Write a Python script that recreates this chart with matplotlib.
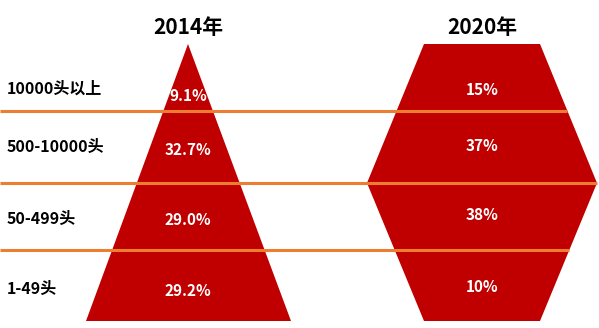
import matplotlib
matplotlib.use("Agg")
import matplotlib.pyplot as plt
from matplotlib.patches import Polygon

plt.rcParams['font.family'] = ['Noto Sans CJK SC', 'DejaVu Sans']

# data
categories = ["10000头以上", "500-10000头", "50-499头", "1-49头"]
years = ["2014年", "2020年"]
share_2014 = ["9.1%", "32.7%", "29.0%", "29.2%"]
share_2020 = ["15%", "37%", "38%", "10%"]

# layout (pixel units, y down)
W, H = 599, 328
top, bottom = 44, 321
band_edges = [111, 183, 250]
cx = [188, 482]
label_y = [89, 147, 219, 289]
pct_y_2014 = [96, 150, 220, 291]
pct_y_2020 = [90, 146, 215, 287]
red = "#C00000"
orange = "#ED7D31"

fig = plt.figure(figsize=(W / 100, H / 100), dpi=100)
ax = fig.add_axes([0, 0, 1, 1])
ax.set_xlim(0, W)
ax.set_ylim(H, 0)
ax.axis("off")

# 2014 pyramid
tri = Polygon([(cx[0], top), (cx[0] + 103, bottom), (cx[0] - 102, bottom)],
              closed=True, color=red, lw=0)
ax.add_patch(tri)

# 2020 hexagon
hw_top, hw_mid = 58, 115
hexa = Polygon([(cx[1] - hw_top, top), (cx[1] + hw_top, top),
                (cx[1] + hw_mid, band_edges[1]), (cx[1] + hw_top, bottom),
                (cx[1] - hw_top, bottom), (cx[1] - hw_mid, band_edges[1])],
               closed=True, color=red, lw=0)
ax.add_patch(hexa)

# separator lines
line_ends = [567, 597, 569]
for y, xe in zip(band_edges, line_ends):
    ax.plot([0, xe], [y, y], color=orange, lw=2.2, solid_capstyle="butt")

# titles
for x, t in zip(cx, years):
    ax.text(x, 27, t, ha="center", va="center", fontsize=15, fontweight="bold")

# row labels
for y, c in zip(label_y, categories):
    ax.text(7, y, c, ha="left", va="center", fontsize=11.5, fontweight="bold")

# percentages
for y, p in zip(pct_y_2014, share_2014):
    ax.text(cx[0], y, p, ha="center", va="center", fontsize=11,
            fontweight="bold", color="white")
for y, p in zip(pct_y_2020, share_2020):
    ax.text(cx[1], y, p, ha="center", va="center", fontsize=11,
            fontweight="bold", color="white")

fig.savefig("out.png", dpi=100)
